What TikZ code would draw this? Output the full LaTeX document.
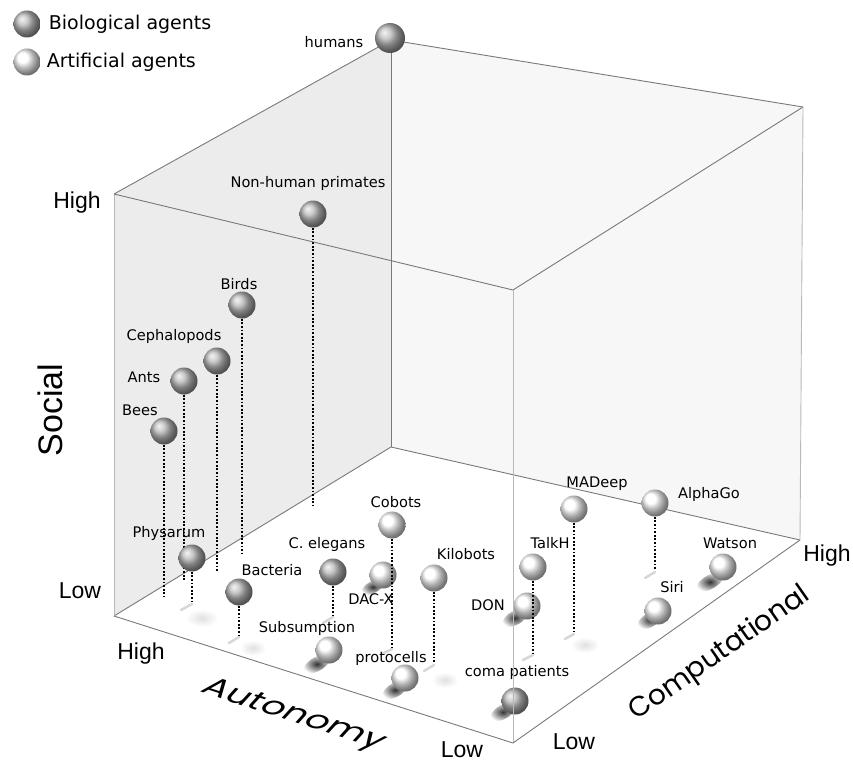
\documentclass[tikz,border=0pt]{standalone}
\usepackage{fontspec}
\setmainfont{DejaVu Sans}
\newfontfamily\axisfont{Liberation Sans}
\newfontfamily\geofont{Poppins}
\usetikzlibrary{positioning}
\usetikzlibrary{fadings}

\tikzfading[name=softspot, inner color=transparent!0, outer color=transparent!100]

\begin{document}
\begin{tikzpicture}[x=1pt, y=1pt,
    bio/.style={circle, inner sep=0pt, minimum size=27pt, ball color=gray!55},
    art/.style={circle, inner sep=0pt, minimum size=27pt, ball color=white},
    lbl/.style={inner sep=0pt, font=\fontsize{14.6}{16}\selectfont},
    level/.style={inner sep=0pt, font=\axisfont\fontsize{23}{25}\selectfont},
    rim/.style={draw=gray!95!black, line width=0.9pt},
    rimlight/.style={draw=gray!55, line width=0.9pt},
    stem/.style={line width=1.8pt, dash pattern=on 1.8pt off 1.8pt},
    streak/.style={gray!45, line width=2.5pt, line cap=round, opacity=.7},
    floorshade/.style={black, opacity=.8, path fading=softspot},
    faintspot/.style={black, opacity=.12, path fading=softspot}
]
\useasboundingbox (0,0) rectangle (853,-762);

% Corners of the box
\coordinate (tl) at (114,-194);
\coordinate (tb) at (391,-40);
\coordinate (tr) at (803,-107);
\coordinate (tf) at (513,-290);
\coordinate (bl) at (114,-616);
\coordinate (bb) at (391,-447);
\coordinate (br) at (800,-540);
\coordinate (bf) at (513,-743);

% Back walls
\fill[gray!15] (tl) -- (tb) -- (bb) -- (bl) -- cycle;
\fill[gray!6] (tb) -- (tr) -- (br) -- (bb) -- cycle;
\draw[rim] (tl) -- (tb) -- (tr);
\draw[rim] (tb) -- (bb);
\draw[rim] (bl) -- (bb) -- (br);
\draw[rimlight] (tl) -- (bl);

% Shadows on the floor
\fill[floorshade] (317,-664) circle [x radius=15, y radius=7, rotate=30];
\fill[floorshade] (395,-690) circle [x radius=14, y radius=7, rotate=30];
\fill[floorshade] (503,-712) circle [x radius=14, y radius=7, rotate=30];
\fill[floorshade] (515,-618) circle [x radius=14, y radius=7, rotate=30];
\fill[floorshade] (650,-620) circle [x radius=14, y radius=7, rotate=30];
\fill[floorshade] (710,-582) circle [x radius=15, y radius=7, rotate=30];
\fill[floorshade] (373,-587) circle [x radius=13, y radius=6, rotate=30];
\fill[faintspot] (202,-618) circle [x radius=16, y radius=9];
\fill[faintspot] (253,-648) circle [x radius=13, y radius=8];
\fill[faintspot] (445,-680) circle [x radius=13, y radius=8];
\fill[faintspot] (585,-645) circle [x radius=14, y radius=8];

% Agents
\node[bio] (humans) at (390,-38) [minimum size=30pt] {};
\node[bio] (primates) at (313,-214) {};
\node[bio] (birds) at (242,-305) {};
\node[bio] (cephalopods) at (217,-361) {};
\node[bio] (ants) at (184,-381) {};
\node[bio] (bees) at (164,-431) {};
\node[bio] (bacteria) at (239,-592) {};
\node[bio] (elegans) at (333,-572) {};
\node[art] (dacx) at (383,-575) {};
\node[art] (don) at (527,-606) {};
\node[art] (cobots) at (392,-525) {};
\node[art] (kilobots) at (434,-578) {};
\node[art] (subsumption) at (329,-650) {};
\node[art] (protocells) at (405,-678) {};
\node[bio] (coma) at (515,-701) {};
\node[art] (talkh) at (533,-567) {};
\node[art] (madeep) at (574,-509) {};
\node[art] (alphago) at (655,-503) {};
\node[art] (watson) at (723,-567) {};
\node[art] (siri) at (658,-611) {};

% Drop lines to the floor
\coordinate (primates-f) at (313,-505);
\coordinate (birds-f) at (242,-554);
\coordinate (cephalopods-f) at (217,-572);
\coordinate (ants-f) at (184,-580);
\coordinate (bees-f) at (164,-597);
\coordinate (bacteria-f) at (239,-635);
\coordinate (elegans-f) at (333,-615);
\coordinate (cobots-f) at (392,-647);
\coordinate (kilobots-f) at (434,-663);
\coordinate (talkh-f) at (533,-653);
\coordinate (madeep-f) at (574,-632);
\coordinate (alphago-f) at (655,-570);
\draw[stem] (primates) -- (primates-f);
\draw[stem] (birds) -- (birds-f);
\draw[stem] (cephalopods) -- (cephalopods-f);
\draw[stem] (ants) -- (ants-f);
\draw[stem] (bees) -- (bees-f);
\draw[stem] (bacteria) -- (bacteria-f);
\draw[stem] (elegans) -- (elegans-f);
\draw[stem] (cobots) -- (cobots-f);
\draw[stem] (kilobots) -- (kilobots-f);
\draw[stem] (talkh) -- (talkh-f);
\draw[stem] (madeep) -- (madeep-f);
\draw[stem] (alphago) -- (alphago-f);

\node[bio] (physarum) at (192,-558) {};
\coordinate (physarum-f) at (192,-602);
\draw[stem] (physarum) -- (physarum-f);

% Streaks where the lines meet the floor
\draw[streak] (physarum-f) ++(0,-2) -- ++(-11,-6);
\draw[streak] (bacteria-f) ++(0,-2) -- ++(-10,-6);
\draw[streak] (elegans-f) ++(0,-2) -- ++(-10,-6);
\draw[streak] (cobots-f) ++(0,-2) -- ++(-10,-5);
\draw[streak] (kilobots-f) ++(0,-2) -- ++(-10,-6);
\draw[streak] (talkh-f) ++(0,-2) -- ++(-10,-5);
\draw[streak] (madeep-f) ++(0,-2) -- ++(-9,-5);
\draw[streak] (alphago-f) ++(0,-2) -- ++(-10,-6);

% Labels
\node[lbl] (humans-l) at (334,-42) {humans};
\node[lbl] (primates-l) at (308,-183) {Non-human primates};
\node[lbl] (birds-l) at (239,-284) {Birds};
\node[lbl] (cephalopods-l) at (174,-336) {Cephalopods};
\node[lbl] (ants-l) at (144,-377) {Ants};
\node[lbl] (bees-l) at (140,-410) {Bees};
\node[lbl] (physarum-l) at (169,-533) {Physarum};
\node[lbl] (bacteria-l) at (272,-570) {Bacteria};
\node[lbl] (elegans-l) at (327,-544) {C. elegans};
\node[lbl] (cobots-l) at (396,-502) {Cobots};
\node[lbl] (dacx-l) at (371,-599) {DAC-X};
\node[lbl] (kilobots-l) at (466,-554) {Kilobots};
\node[lbl] (subsumption-l) at (307,-628) {Subsumption};
\node[lbl] (protocells-l) at (391,-658) {protocells};
\node[lbl] (coma-l) at (517,-672) {coma patients};
\node[lbl] (don-l) at (488,-605) {DON};
\node[lbl] (talkh-l) at (550,-543) {TalkH};
\node[lbl] (madeep-l) at (597,-484) {MADeep};
\node[lbl] (alphago-l) at (709,-494) {AlphaGo};
\node[lbl] (watson-l) at (730,-543) {Watson};
\node[lbl] (siri-l) at (672,-587) {Siri};

% Front edges of the box
\draw[rim] (tl) -- (tf) -- (tr);
\draw[rimlight] (tf) -- (bf);
\draw[rimlight] (tr) -- (br);
\draw[rim] (bl) -- (bf) -- (br);

% Axes
\node[level] (soc-hi) at (77,-203) {High};
\node[level] (soc-lo) at (80,-591) {Low};
\node[level] (aut-hi) at (141,-654) {High};
\node[level] (aut-lo) at (462,-750) {Low};
\node[level] (com-lo) at (574,-742) {Low};
\node[level] (com-hi) at (827,-556) {High};
\node[inner sep=0pt, rotate=90, font=\axisfont\fontsize{34}{36}\selectfont] (social) at (50,-410) {Social};
\node[inner sep=0pt, rotate=-18, xslant=0.45, yscale=0.75, transform shape,
      font=\geofont\fontsize{36}{38}\selectfont] (autonomy) at (293,-716) {Autonomy};
\node[inner sep=0pt, rotate=35, transform shape,
      font=\geofont\fontsize{28}{30}\selectfont] (computational) at (720,-654) {Computational};

% Legend
\node[bio] (key-bio) at (27,-24) {};
\node[right=8pt of key-bio, inner sep=0pt, font=\fontsize{19}{21}\selectfont] {Biological agents};
\node[art] (key-art) at (27,-62) {};
\node[right=6pt of key-art, inner sep=0pt, font=\fontsize{19}{21}\selectfont] {Artificial agents};

\end{tikzpicture}
\end{document}
